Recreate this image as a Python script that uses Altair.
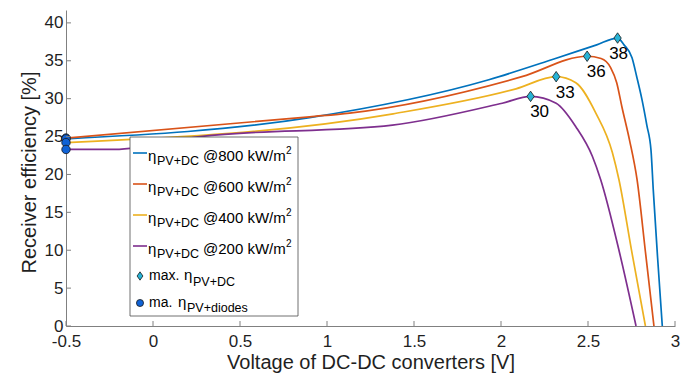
import altair as alt
import pandas as pd

# ---------------- data ----------------
SERIES = ["800", "600", "400", "200"]
COLORS = ["#0072BD", "#D95319", "#EDB120", "#7E2F8E"]

V800 = [-0.5, 0.9, 1.93, 2.3, 2.55, 2.67, 2.707, 2.753, 2.78, 2.81, 2.838, 2.862, 2.875, 2.90, 2.927]
E800 = [24.7, 27.5, 32.5, 35.2, 37.1, 38.0, 37.1, 35.4, 32.9, 29.9, 26.5, 23.2, 18.0, 9.0, 0.0]

V600 = [-0.5, 0.9, 1.13, 2.12, 2.495, 2.575, 2.63, 2.665, 2.695, 2.738, 2.782, 2.83, 2.879]
E600 = [24.8, 27.6, 28.1, 32.9, 35.6, 35.3, 34.1, 32.1, 28.9, 24.6, 19.3, 9.8, 0.0]

V400 = [-0.5, 1.38, 2.086, 2.317, 2.43, 2.545, 2.64, 2.678, 2.75, 2.83]
E400 = [24.2, 28.0, 31.3, 32.9, 32.1, 28.1, 22.9, 19.3, 10.0, 0.0]

V200 = [-0.5, -0.22, 0.27, 1.376, 2.007, 2.17, 2.317, 2.43, 2.525, 2.573, 2.68, 2.776]
E200 = [23.3, 23.3, 25.0, 26.5, 29.4, 30.3, 29.4, 26.3, 22.4, 19.3, 9.8, 0.0]

PEAK_V = [2.67, 2.495, 2.317, 2.17]
PEAK_E = [38.0, 35.6, 32.9, 30.3]
PEAK_LABEL = ["38", "36", "33", "30"]

START_V = [-0.5, -0.5, -0.5, -0.5]
START_E = [24.8, 24.7, 24.2, 23.3]

X_TICKS = [-0.5, 0, 0.5, 1, 1.5, 2, 2.5, 3]
Y_TICKS = [0, 5, 10, 15, 20, 25, 30, 35, 40]

X_TITLE = "Voltage of DC-DC converters [V]"
Y_TITLE = "Receiver efficiency [%]"
LEG_UNIT = "kW/m"
LEG_SUB = "PV+DC"
LEG_SUB2 = "PV+diodes"

FONT = "Liberation Sans"
W, H = 609, 316

# ---------------- tables ----------------
rows = []
for s, vs, es in zip(SERIES, [V800, V600, V400, V200], [E800, E600, E400, E200]):
    for i, (v, e) in enumerate(zip(vs, es)):
        rows.append({"series": s, "V": v, "E": e, "i": i})
lines_df = pd.DataFrame(rows)

peaks_df = pd.DataFrame({"V": PEAK_V, "E": PEAK_E, "label": PEAK_LABEL})
starts_df = pd.DataFrame({"V": START_V, "E": START_E})
xt_df = pd.DataFrame({"V": X_TICKS})
yt_df = pd.DataFrame({"E": Y_TICKS})

xs = alt.Scale(domain=[-0.5, 3], nice=False, zero=False)
ys = alt.Scale(domain=[0, 41.7], nice=False, zero=False)

LBL = "replace(format(datum.value, '~g'), '\u2212', '-')"

x_enc = alt.X("V:Q", scale=xs, title=X_TITLE,
              axis=alt.Axis(values=X_TICKS, ticks=False, grid=False,
                            labelPadding=7, labelFontSize=17, labelFlush=False,
                            labelExpr=LBL,
                            titleY=42, titleBaseline="alphabetic"))
y_enc = alt.Y("E:Q", scale=ys, title=Y_TITLE,
              axis=alt.Axis(values=Y_TICKS, ticks=False, grid=False,
                            labelPadding=3, labelFontSize=17, labelFlush=False,
                            labelExpr=LBL,
                            titleX=-31, titleY=162, titleBaseline="alphabetic"))

lines = alt.Chart(lines_df).mark_line(strokeWidth=1.7, interpolate="monotone", clip=True).encode(
    x=x_enc, y=y_enc,
    color=alt.Color("series:N", scale=alt.Scale(domain=SERIES, range=COLORS), legend=None),
    order=alt.Order("i:Q"),
)

xticks = alt.Chart(xt_df).mark_rule(color="#808080", strokeWidth=1).encode(
    x=x_enc, y=alt.value(H), y2=alt.value(H - 5))
yticks = alt.Chart(yt_df).mark_rule(color="#808080", strokeWidth=1).encode(
    y=y_enc, x=alt.value(0), x2=alt.value(5))

DIAMOND = "M0,-1L0.7,0L0,1L-0.7,0Z"
diamonds = alt.Chart(peaks_df).mark_point(
    shape=DIAMOND, size=110, filled=True, fill="#27B3D6", stroke="#1a1a1a",
    strokeWidth=0.8, opacity=1).encode(x=x_enc, y=y_enc)

circles = alt.Chart(starts_df).mark_point(
    shape="circle", size=72, filled=True, fill="#0F62D6", stroke="#1a1a1a",
    strokeWidth=0.8, opacity=1, clip=False).encode(x=x_enc, y=y_enc)

lab_main = alt.Chart(peaks_df).transform_filter("datum.label != '38'").mark_text(
    font=FONT, fontSize=17, color="#000000", dx=9, dy=16, align="center",
    baseline="middle").encode(x=x_enc, y=y_enc, text="label:N")
lab_38 = alt.Chart(peaks_df).transform_filter("datum.label == '38'").mark_text(
    font=FONT, fontSize=17, color="#000000", dx=1, dy=16, align="center",
    baseline="middle").encode(x=x_enc, y=y_enc, text="label:N")

# ---------------- legend (drawn in pixel space) ----------------
ROW_Y = [143, 174, 205, 236, 266, 293]
box = alt.Chart(pd.DataFrame({"a": [0]})).mark_rect(
    fill="white", stroke="#4d4d4d", strokeWidth=0.8).encode(
    x=alt.value(64), x2=alt.value(232), y=alt.value(127), y2=alt.value(306))

leg_lines_df = pd.DataFrame({
    "x": [67] * 4, "x2": [81] * 4, "y": ROW_Y[:4], "c": COLORS})
leg_lines = alt.Chart(leg_lines_df).mark_rule(strokeWidth=1.6).encode(
    x=alt.X("x:Q", scale=None), x2="x2:Q", y=alt.Y("y:Q", scale=None),
    color=alt.Color("c:N", scale=None))

texts = []
for k, s in enumerate(SERIES):
    y = ROW_Y[k]
    texts.append({"t": "\u03b7", "x": 82, "y": y + 8, "fs": 15})
    texts.append({"t": LEG_SUB, "x": 91, "y": y + 12, "fs": 12.5})
    texts.append({"t": "@" + s + " " + LEG_UNIT, "x": 137, "y": y + 8, "fs": 15})
    texts.append({"t": "2", "x": 220, "y": y + 1, "fs": 10})
y = ROW_Y[4]
texts.append({"t": "max.", "x": 83, "y": y + 4, "fs": 14})
texts.append({"t": "\u03b7", "x": 118, "y": y + 4, "fs": 15})
texts.append({"t": LEG_SUB, "x": 127, "y": y + 10, "fs": 12.5})
y = ROW_Y[5]
texts.append({"t": "ma.", "x": 83, "y": y + 4, "fs": 14})
texts.append({"t": "\u03b7", "x": 112, "y": y + 4, "fs": 15})
texts.append({"t": LEG_SUB2, "x": 121, "y": y + 9, "fs": 12.5})
leg_text_df = pd.DataFrame(texts)

leg_text = alt.Chart(leg_text_df).mark_text(
    font=FONT, align="left", baseline="alphabetic", color="#000000").encode(
    x=alt.X("x:Q", scale=None), y=alt.Y("y:Q", scale=None), text="t:N",
    size=alt.Size("fs:Q", scale=None))

leg_sym_df = pd.DataFrame({"x": [74], "y": [ROW_Y[4]]})
leg_diamond = alt.Chart(leg_sym_df).mark_point(
    shape=DIAMOND, size=70, filled=True, fill="#27B3D6", stroke="#1a1a1a",
    strokeWidth=0.8, opacity=1).encode(
    x=alt.X("x:Q", scale=None), y=alt.Y("y:Q", scale=None))
leg_circle_df = pd.DataFrame({"x": [74], "y": [ROW_Y[5]]})
leg_circle = alt.Chart(leg_circle_df).mark_point(
    shape="circle", size=50, filled=True, fill="#0F62D6", stroke="#1a1a1a",
    strokeWidth=0.8, opacity=1).encode(
    x=alt.X("x:Q", scale=None), y=alt.Y("y:Q", scale=None))

chart = alt.layer(
    lines, box, diamonds, circles, lab_main, lab_38, xticks, yticks,
    leg_lines, leg_text, leg_diamond, leg_circle
).properties(
    width=W, height=H,
    padding={"left": 66, "top": 10, "right": 17, "bottom": 52},
    autosize=alt.AutoSizeParams(type="none"),
    background="white",
).configure_view(stroke=None).configure_axis(
    domainColor="#808080", domainWidth=1,
    labelColor="#1f1f1f", labelFont=FONT,
    titleColor="#1f1f1f", titleFont=FONT, titleFontSize=20, titleFontWeight="normal",
)

chart.save("out.html", embed_options={"renderer": "svg", "actions": False})
